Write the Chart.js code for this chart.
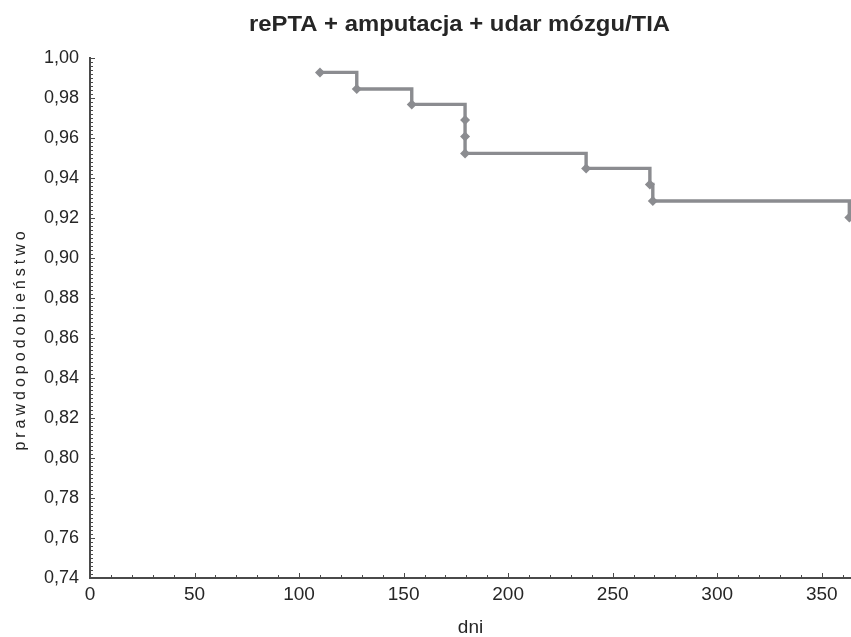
<!DOCTYPE html>
<html>
<head>
<meta charset="utf-8">
<script src="https://cdn.jsdelivr.net/npm/chart.js@4/dist/chart.umd.min.js"></script>
<style>
  html, body { margin: 0; padding: 0; background: #fff; overflow: hidden; }
  #wrap { width: 851px; height: 637px; position: relative; }
</style>
</head>
<body>
<div id="wrap"><canvas id="chart"></canvas></div>
<script>
const title = "rePTA + amputacja + udar mózgu/TIA";
const xTitle = "dni";
const yTitle = "prawdopodobieństwo";

// event times (days) and survival estimate after each event
const days = [110, 127.6, 153.9, 179.4, 179.4, 179.4, 237.3, 267.8, 269.2, 363.2];
const survival = [0.9928, 0.9845, 0.9768, 0.969, 0.9607, 0.9523, 0.9448, 0.9368, 0.9285, 0.9202];

const xTicks = [0, 50, 100, 150, 200, 250, 300, 350];

const FONT = '"Liberation Sans", Arial, sans-serif';
const INK = "#262626";
const AXIS = "#4a4a4a";

// title, rotated y label and the small inward ticks on both axes
const decorations = {
  id: "decorations",
  afterDraw(chart) {
    const ctx = chart.ctx;
    const xs = chart.scales.x, ys = chart.scales.y;
    const area = chart.chartArea;
    ctx.save();

    ctx.strokeStyle = AXIS;
    ctx.lineWidth = 1;
    ctx.beginPath();
    for (let v = 0; v <= xs.max; v += 10) {
      const px = Math.round(xs.getPixelForValue(v)) + 0.5;
      const len = v % 50 === 0 ? 5 : 3;
      ctx.moveTo(px, area.bottom);
      ctx.lineTo(px, area.bottom - len);
    }
    for (let i = 0; i <= 130; i++) {
      const v = 0.74 + i * 0.002;
      const py = Math.round(ys.getPixelForValue(v)) + 0.5;
      const len = i % 10 === 0 ? 5 : 3;
      ctx.moveTo(area.left, py);
      ctx.lineTo(area.left + len, py);
    }
    ctx.stroke();

    ctx.fillStyle = INK;
    ctx.font = "bold 22px " + FONT;
    const w = ctx.measureText(title).width;
    ctx.translate(459.5, 31);
    ctx.scale(421 / w, 1);
    ctx.textAlign = "center";
    ctx.textBaseline = "alphabetic";
    ctx.fillText(title, 0, 0);
    ctx.restore();

    ctx.save();
    ctx.fillStyle = INK;
    ctx.font = "16px " + FONT;
    ctx.letterSpacing = "4px";
    ctx.translate(25, 341);
    ctx.rotate(-Math.PI / 2);
    ctx.textAlign = "center";
    ctx.textBaseline = "alphabetic";
    ctx.fillText(yTitle, 2, 0);
    ctx.restore();
  }
};

new Chart(document.getElementById("chart"), {
  type: "line",
  data: {
    datasets: [{
      data: days.map((d, i) => ({ x: d, y: survival[i] })),
      stepped: "before",
      borderColor: "#8b8c90",
      borderWidth: 3.4,
      backgroundColor: "#8b8c90",
      pointStyle: "rectRot",
      pointRadius: 5,
      pointBorderWidth: 0,
      pointBackgroundColor: "#8b8c90",
      clip: false,
      fill: false
    }]
  },
  options: {
    responsive: true,
    maintainAspectRatio: false,
    animation: false,
    layout: { autoPadding: false, padding: { top: 58, right: 0, left: 0, bottom: 0 } },
    plugins: {
      legend: { display: false },
      title: { display: false },
      tooltip: { enabled: false }
    },
    scales: {
      x: {
        type: "linear",
        min: 0,
        max: 364,
        afterBuildTicks: s => { s.ticks = xTicks.map(v => ({ value: v })); },
        afterFit: s => { s.height = 59; s.paddingRight = 0; s.paddingLeft = 0; },
        grid: { display: false, drawTicks: false },
        border: { display: true, color: AXIS, width: 2 },
        ticks: { color: INK, font: { family: FONT, size: 19 }, padding: 5, maxRotation: 0 },
        title: { display: true, text: xTitle, color: INK, font: { family: FONT, size: 19 }, padding: { top: 0, bottom: -2 } }
      },
      y: {
        min: 0.74,
        max: 1.0,
        afterFit: s => { s.width = 90; },
        grid: { display: false, drawTicks: false },
        border: { display: true, color: AXIS, width: 2 },
        ticks: {
          stepSize: 0.02,
          color: INK,
          font: { family: FONT, size: 18 },
          padding: 11,
          callback: v => v.toFixed(2).replace(".", ",")
        }
      }
    }
  },
  plugins: [decorations]
});
</script>
</body>
</html>
